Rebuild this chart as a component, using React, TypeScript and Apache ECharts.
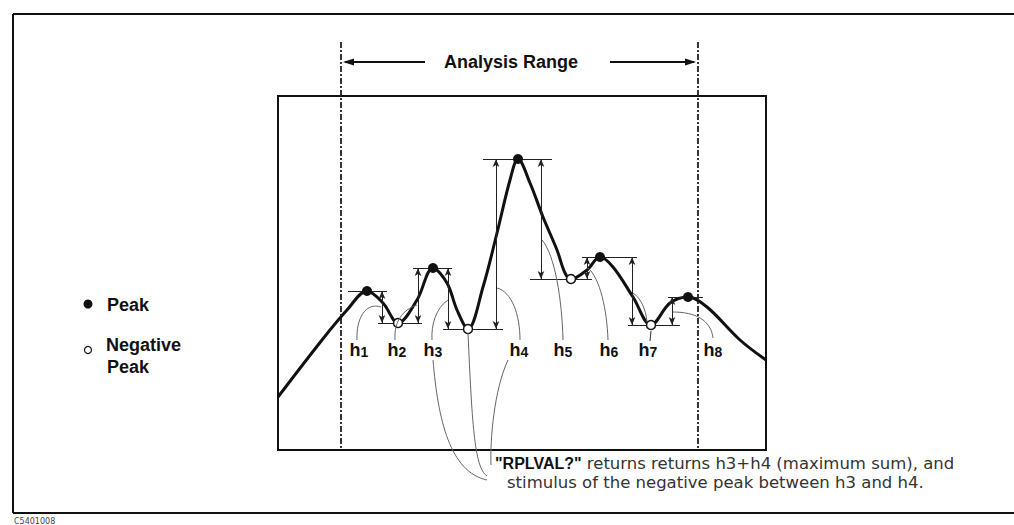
import React, { useEffect, useRef } from "react";
import * as echarts from "echarts";

// Trace (x = stimulus units, y = amplitude units)
const curve: number[][] = [
  [0, 53], [44, 110], [69, 140], [89, 159], [105, 147], [120, 127], [139, 150],
  [155, 182], [169, 167], [179, 140], [190, 121], [205, 163], [219, 217], [232, 270],
  [240, 291], [252, 267], [265, 233], [279, 200], [287, 177], [293, 171], [309, 180],
  [322, 193], [335, 183], [355, 153], [373, 125], [392, 147], [410, 153], [429, 143],
  [462, 110], [488, 90],
];
const peaks: number[][] = [[89, 159], [155, 182], [240, 291], [322, 193], [410, 153]];
const negPeaks: number[][] = [[120, 127], [190, 121], [293, 171], [373, 125]];
// extrema in trace order: P N P N P N P N P
const extrema = [peaks[0], negPeaks[0], peaks[1], negPeaks[1], peaks[2], negPeaks[2], peaks[3], negPeaks[3], peaks[4]];
const refSpans: number[][] = [[70, 109], [100, 144], [135, 174], [165, 225], [205, 274], [252, 314], [304, 359], [350, 402], [390, 425]];
const hNames = ["h1", "h2", "h3", "h4", "h5", "h6", "h7", "h8"];
const hArrowX = [104, 140, 170, 218, 263, 309, 354, 394];
const hLabelX = [81, 119, 155, 241, 285, 331, 370, 435];
const hLabelY = 100;
const rangeLimits = [63, 420];
// leader curves [x1,y1,cpx1,cpy1,cpx2,cpy2,x2,y2] in data units
const hLeaders: number[][] = [
  [103, 143, 88, 148, 78, 132, 79, 110],
  [139, 145, 124, 140, 116, 128, 117, 110],
  [170, 150, 158, 142, 153, 125, 154, 110],
  [219, 162, 234, 158, 242, 135, 242, 110],
  [264, 210, 277, 195, 284, 150, 285, 110],
  [310, 182, 322, 172, 329, 140, 330, 110],
  [355, 157, 363, 152, 368, 140, 369, 128],
  [395, 138, 417, 138, 433, 130, 435, 112],
];
const noteLeaders: number[][] = [
  [155, 90, 160, 30, 172, -22, 209, -30],
  [190, 117, 194, 30, 196, -18, 209, -26],
  [230, 90, 216, 60, 212, 10, 213, -15],
];
const h7Stem: number[][] = [[373, 119], [372, 109]];

const BOLD = "bold 18px 'Liberation Sans', Arial, sans-serif";
const BODY = "16.5px 'DejaVu Sans', sans-serif";
const INK = "#111";

export default function App() {
  const ref = useRef<HTMLDivElement>(null);
  useEffect(() => {
    const chart = echarts.init(ref.current!, null, { renderer: "svg" });
    const option: any = {
      animation: false,
      grid: { left: 278, top: 96, width: 488, height: 354, show: true, borderColor: INK, borderWidth: 2, backgroundColor: "transparent" },
      xAxis: { type: "value", min: 0, max: 488, show: false },
      yAxis: { type: "value", min: 0, max: 354, show: false },
      series: [
        {
          type: "line", data: curve, smooth: 0.35, showSymbol: false, symbol: "none",
          lineStyle: { color: INK, width: 3 }, z: 3, silent: true,
        },
        {
          type: "scatter", data: peaks, symbol: "circle", symbolSize: 10,
          itemStyle: { color: INK, opacity: 1 }, z: 5, silent: true,
          markLine: {
            silent: true, symbol: ["arrow", "arrow"], symbolSize: [5, 8], label: { show: false },
            lineStyle: { color: "#222", width: 1, type: "solid", opacity: 1 },
            emphasis: { disabled: true },
            data: hArrowX.map((x, i) => [
              { coord: [x, extrema[i][1]] },
              { coord: [x, extrema[i + 1][1]] },
            ]),
          },
        },
        {
          type: "scatter", data: negPeaks, symbol: "circle", symbolSize: 9,
          itemStyle: { color: "#fff", borderColor: INK, borderWidth: 1.5, opacity: 1 }, z: 5, silent: true,
          markLine: {
            silent: true, symbol: "none", label: { show: false },
            lineStyle: { color: "#222", width: 1, type: "solid", opacity: 1 },
            emphasis: { disabled: true },
            data: refSpans.map((s, i) => [
              { coord: [s[0], extrema[i][1]] },
              { coord: [s[1], extrema[i][1]] },
            ]),
          },
        },
      ],
    };
    chart.setOption(option);
    const P = (x: number, y: number) => chart.convertToPixel({ gridIndex: 0 }, [x, y]) as number[];

    const g: any[] = [];
    // outer frame
    const frame = [[13, 14, 1014, 14], [13, 14, 13, 513], [13, 513, 1014, 513]];
    frame.forEach((f) => g.push({ type: "line", shape: { x1: f[0], y1: f[1], x2: f[2], y2: f[3] }, style: { stroke: INK, lineWidth: 2 } }));
    // analysis range dashed lines
    rangeLimits.forEach((x) => {
      const px = P(x, 0)[0];
      g.push({ type: "line", shape: { x1: px, y1: 42, x2: px, y2: 449 }, style: { stroke: "#222", lineWidth: 1.8, lineDash: [6, 2, 2, 2] }, z: 10 });
    });
    const lx = P(rangeLimits[0], 0)[0];
    const rx = P(rangeLimits[1], 0)[0];
    g.push({ type: "line", shape: { x1: lx + 4, y1: 62, x2: 425, y2: 62 }, style: { stroke: INK, lineWidth: 2 } });
    g.push({ type: "polygon", shape: { points: [[lx + 2, 62], [lx + 13, 58.5], [lx + 13, 65.5]] }, style: { fill: INK } });
    g.push({ type: "line", shape: { x1: 610, y1: 62, x2: rx - 4, y2: 62 }, style: { stroke: INK, lineWidth: 2 } });
    g.push({ type: "polygon", shape: { points: [[rx - 2, 62], [rx - 13, 58.5], [rx - 13, 65.5]] }, style: { fill: INK } });
    g.push({ type: "text", x: 511, y: 62, style: { text: "Analysis Range", font: BOLD, fill: INK, textAlign: "center", textVerticalAlign: "middle" } });
    // legend
    g.push({ type: "circle", shape: { cx: 88, cy: 304, r: 4.5 }, style: { fill: INK } });
    g.push({ type: "text", x: 107, y: 305, style: { text: "Peak", font: BOLD, fill: INK, textVerticalAlign: "middle" } });
    g.push({ type: "circle", shape: { cx: 88, cy: 350, r: 3.5 }, style: { fill: "#fff", stroke: INK, lineWidth: 1.2 } });
    g.push({ type: "text", x: 106, y: 345, style: { text: "Negative", font: BOLD, fill: INK, textVerticalAlign: "middle" } });
    g.push({ type: "text", x: 107, y: 367, style: { text: "Peak", font: BOLD, fill: INK, textVerticalAlign: "middle" } });
    // h labels
    hNames.forEach((name, i) => {
      const p = P(hLabelX[i], hLabelY);
      g.push({
        type: "text", x: p[0], y: p[1],
        style: {
          text: "{h|h}{n|" + name.slice(1) + "}", textAlign: "center", textVerticalAlign: "middle",
          rich: {
            h: { font: "bold 18px 'Liberation Sans', Arial, sans-serif", fill: INK, verticalAlign: "bottom" },
            n: { font: "bold 14px 'Liberation Sans', Arial, sans-serif", fill: INK, verticalAlign: "bottom" },
          },
        },
      });
    });
    // leader curves
    [...hLeaders, ...noteLeaders].forEach((c) => {
      const a = P(c[0], c[1]), b = P(c[2], c[3]), d = P(c[4], c[5]), e = P(c[6], c[7]);
      g.push({ type: "bezierCurve", shape: { x1: a[0], y1: a[1], cpx1: b[0], cpy1: b[1], cpx2: d[0], cpy2: d[1], x2: e[0], y2: e[1] }, style: { stroke: "#666", lineWidth: 1, fill: "none" }, z: 8 });
    });
    const s1 = P(h7Stem[0][0], h7Stem[0][1]), s2 = P(h7Stem[1][0], h7Stem[1][1]);
    g.push({ type: "line", shape: { x1: s1[0], y1: s1[1], x2: s2[0], y2: s2[1] }, style: { stroke: "#333", lineWidth: 1 } });
    // note text
    g.push({
      type: "text", x: 495, y: 463,
      style: {
        text: "{b|\"RPLVAL?\"}{r| returns returns h3+h4 (maximum sum), and}", textVerticalAlign: "middle",
        rich: {
          b: { font: "bold 16px 'Liberation Sans', Arial, sans-serif", fill: INK },
          r: { font: BODY, fill: "#333" },
        },
      },
    });
    g.push({ type: "text", x: 507, y: 482, style: { text: "stimulus of the negative peak between h3 and h4.", font: BODY, fill: "#333", textVerticalAlign: "middle" } });
    g.push({ type: "text", x: 14, y: 521, style: { text: "C5401008", font: "8px 'DejaVu Sans', sans-serif", fill: "#444", textVerticalAlign: "middle" } });

    chart.setOption({ graphic: g });
    return () => chart.dispose();
  }, []);
  return <div ref={ref} style={{ position: "fixed", left: 0, top: 0, width: 1014, height: 525, background: "#fff" }} />;
}
